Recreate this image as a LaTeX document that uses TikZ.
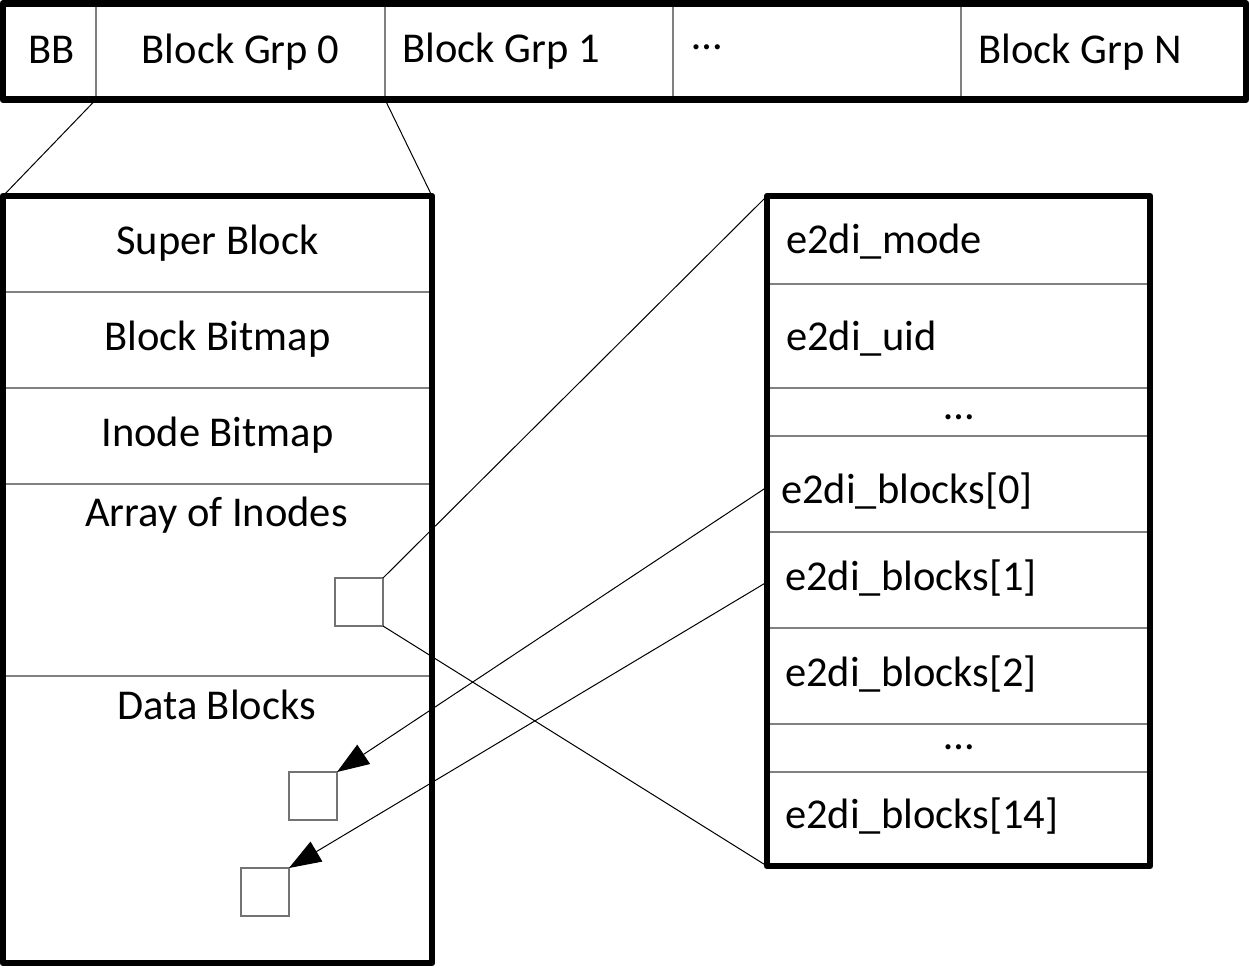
\documentclass[tikz,border=0pt]{standalone}
\usepackage{fontspec}
\setmainfont{Carlito}
\usetikzlibrary{arrows.meta}
\begin{document}
\begin{tikzpicture}[x=1pt,y=-1pt,
  frame/.style={draw=black, line width=6.6pt, line join=round, inner sep=0pt, outer sep=0pt, anchor=north west},
  divider/.style={draw=black!50, line width=1.3pt},
  cellbox/.style={draw=black!55, line width=1.3pt, fill=white, inner sep=0pt, outer sep=0pt, minimum size=48pt, anchor=north west},
  lbl/.style={inner sep=0pt, font=\fontsize{42.5pt}{50pt}\selectfont},
  link/.style={draw=black, line width=1pt},
  ptr/.style={link, -{Triangle[length=32pt 0 0,width=23pt 0 0]}},
]
\useasboundingbox (0,0) rectangle (1249,967);

% disk layout bar: dividers between the groups
\foreach \x in {96,385,673,961}
  \draw[divider] (\x,3) -- (\x,99);
\node[frame, minimum width=1243pt, minimum height=96.5pt] (bar) at (3,3.2) {};

% block group 0 expanded: section separators
\foreach \y in {292,388,484,676}
  \draw[divider] (3,\y) -- (432,\y);
\node[frame, minimum width=429pt, minimum height=767pt] (lbox) at (3,196) {};

% inode structure: field separators
\foreach \y in {284,388,436,532,628,724,772}
  \draw[divider] (767,\y) -- (1150,\y);
\node[frame, minimum width=383pt, minimum height=670pt] (rbox) at (767,196) {};

% labels of the layout bar
\node[lbl, anchor=base] (bb) at (51.5,63) {BB};
\node[lbl, anchor=base] (grp0) at (240.5,63) {Block Grp 0};
\node[lbl, anchor=base west] (grp1) at (402.5,62.5) {Block Grp 1};
\node[lbl, anchor=base west] (grpdots) at (692,49.8) {…};
\node[lbl, anchor=base west] (grpn) at (978.5,63) {Block Grp N};

% labels of the block group sections
\node[lbl, anchor=base] (sb) at (217.5,254) {Super Block};
\node[lbl, anchor=base] (bbm) at (217.5,350) {Block Bitmap};
\node[lbl, anchor=base] (ibm) at (217.5,446.7) {Inode Bitmap};
\node[lbl, anchor=base] (ai) at (216.5,526.7) {Array of Inodes};
\node[lbl, anchor=base] (db) at (216.5,719.3) {Data Blocks};

% labels of the inode fields
\node[lbl, anchor=base west] (fmode) at (786,253.3) {e2di\_mode};
\node[lbl, anchor=base west] (fuid) at (786,350.7) {e2di\_uid};
\node[lbl, anchor=base] (fdots1) at (959,419.5) {…};
\node[lbl, anchor=base west] (fb0) at (781,503) {e2di\_blocks[0]};
\node[lbl, anchor=base west] (fb1) at (785,590) {e2di\_blocks[1]};
\node[lbl, anchor=base west] (fb2) at (785,686) {e2di\_blocks[2]};
\node[lbl, anchor=base] (fdots2) at (959,749) {…};
\node[lbl, anchor=base west] (fb14) at (785,828) {e2di\_blocks[14]};

% one inode and two data blocks
\node[cellbox] (inode) at (335,578) {};
\node[cellbox] (data1) at (289,772) {};
\node[cellbox] (data2) at (241,868) {};

% zoom lines and pointers
\coordinate (g0l) at (96,99.5);
\coordinate (g0r) at (385,99.5);
\coordinate (p0) at (767,487);
\coordinate (p1) at (767,582);
\draw[link] (g0l) -- (lbox.north west);
\draw[link] (g0r) -- (lbox.north east);
\draw[link] (inode.north east) -- (rbox.north west);
\draw[link] (inode.south east) -- (rbox.south west);
\draw[ptr] (p0) -- (data1.north east);
\draw[ptr] (p1) -- (data2.north east);
\end{tikzpicture}
\end{document}
